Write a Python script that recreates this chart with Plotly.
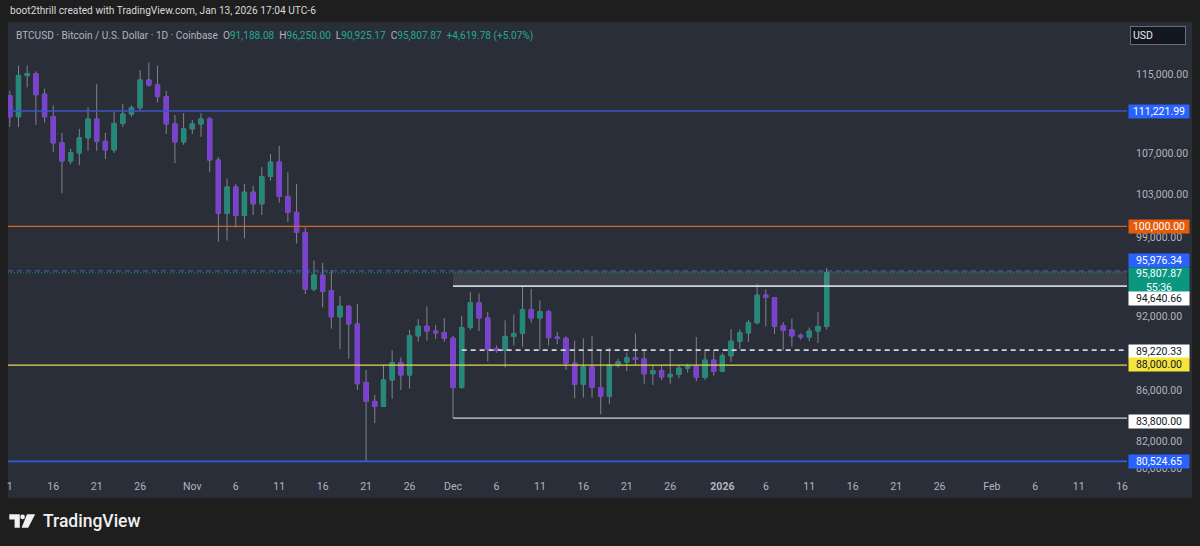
import numpy as np
import pandas as pd
import plotly.graph_objects as go

# ---------------- data ----------------
dates = pd.date_range("2025-10-11", "2026-01-13", freq="D")

opens = [112800, 110630, 114900, 115100, 112950, 110630, 108000, 106200, 107000, 108500,
         110390, 108150, 107300, 109950, 110900, 111550, 114440, 113920, 112700, 109900,
         108100, 109400, 109900, 110400, 106300, 101200, 103700, 101000, 103200, 102100,
         104700, 106100, 102800, 101300, 99440, 94380, 95600, 94250, 92000, 92900,
         91400, 86600, 85100, 84700, 86800, 88200, 87200, 90400, 91200, 90800,
         90650, 90200, 86200, 91100, 93200, 91900, 89350, 89200, 90350, 90600,
         92600, 91900, 92450, 90300, 90200, 88150, 86450, 87850, 86200, 85500,
         88000, 88250, 88600, 88500, 87300, 87550, 87050, 87250, 87750, 87900,
         87000, 88400, 87500, 88750, 89950, 90650, 91500, 93850, 93650, 91250,
         90900, 90450, 90300, 90800, 91188.08]
highs = [113300, 115960, 115960, 115350, 113530, 111800, 109000, 107400, 109400, 111600,
         114000, 109000, 111100, 111950, 111800, 115500, 116320, 115960, 113300, 110800,
         111000, 110300, 111000, 110600, 106600, 104500, 104000, 104000, 103800, 105600,
         106900, 107700, 105100, 104000, 99900, 96900, 96700, 96050, 93800, 93000,
         93100, 87600, 85600, 88000, 89200, 88600, 90900, 91800, 92900, 91300,
         91900, 90400, 92100, 94100, 94000, 92400, 89600, 91700, 92200, 94640.66,
         94400, 93400, 92600, 90700, 90350, 90000, 90200, 90400, 89200, 89400,
         88500, 89000, 90600, 89200, 88000, 88000, 89300, 88000, 88100, 90300,
         89200, 89200, 89000, 90950, 90950, 91750, 94850, 94350, 93700, 91550,
         91850, 90600, 91100, 92400, 96250.00]
lows = [109600, 109580, 113670, 109800, 110030, 107100, 103100, 105900, 105800, 107200,
        107200, 106400, 107000, 109600, 110600, 111270, 113730, 112100, 108900, 106000,
        107800, 108900, 108600, 105150, 98600, 98700, 99900, 98900, 101050, 101050,
        104300, 102200, 100400, 98440, 93950, 94200, 92800, 91000, 89300, 88500,
        86000, 80524.65, 83400, 84650, 85300, 86000, 86100, 89900, 90000, 90150,
        89900, 83800, 86100, 90900, 90800, 88300, 89000, 87800, 89600, 89500,
        91500, 89200, 89600, 89700, 87600, 85350, 85400, 85400, 84100, 84900,
        87800, 87500, 88000, 86500, 86400, 86800, 86500, 86950, 87400, 86700,
        86800, 87150, 87400, 88250, 89300, 89900, 91350, 91200, 90550, 89200,
        89500, 90100, 89950, 89800, 90925.17]
closes = [110630, 114900, 115130, 112900, 110630, 108000, 106200, 107000, 108500, 110390,
          108150, 107300, 109950, 110900, 111550, 114440, 113920, 112700, 109900, 108100,
          109400, 109900, 110400, 106300, 101200, 103700, 101000, 103200, 102100, 104700,
          106100, 102800, 101300, 99440, 94380, 95600, 94200, 92000, 92900, 91400,
          86500, 85100, 84700, 86800, 88200, 87200, 90400, 91200, 90800, 90650,
          90200, 86200, 91100, 93200, 91900, 89300, 89200, 90350, 90600, 92600,
          91900, 92450, 90250, 90200, 88150, 86450, 87850, 86200, 85500, 88000,
          88250, 88600, 88450, 87300, 87550, 87050, 87250, 87750, 87900, 87000,
          88400, 87500, 88750, 89950, 90650, 91500, 93850, 93650, 91200, 90850,
          90400, 90300, 90800, 91188.09, 95807.87]

# horizontal levels drawn on the chart
level_blue_top = 111221.99
level_round = 100000.00
level_alert = 95976.34
level_last = 95807.87
level_range_top = 94640.66
level_mid = 89220.33
level_yellow = 88000.00
level_range_low = 83800.00
level_blue_low = 80524.65

# axis ticks
price_ticks = [115000, 107000, 103000, 99000, 92000, 86000, 82000, 80000]
date_ticks = ["2025-10-11", "2025-10-16", "2025-10-21", "2025-10-26", "2025-11-01", "2025-11-06",
              "2025-11-11", "2025-11-16", "2025-11-21", "2025-11-26", "2025-12-01", "2025-12-06",
              "2025-12-11", "2025-12-16", "2025-12-21", "2025-12-26", "2026-01-01", "2026-01-06",
              "2026-01-11", "2026-01-16", "2026-01-21", "2026-01-26", "2026-02-01", "2026-02-06",
              "2026-02-11", "2026-02-16"]
date_labels = ["1", "16", "21", "26", "Nov", "6", "11", "16", "21", "26", "Dec", "6", "11", "16",
               "21", "26", "<b>2026</b>", "6", "11", "16", "21", "26", "Feb", "6", "11", "16"]

# ---------------- styling ----------------
W, H = 1200, 546
PL, PR, PT, PB = 8, 1127, 22, 472
OUTER = "#1e1e1e"
PANE = "#2a2e39"
UP = "#23897a"
DOWN = "#7b41d3"
WICK = "#80838c"
TXT = "#b2b5be"
FONT = "Roboto"

x_start = pd.Timestamp("2025-10-10 19:00")
x_end = pd.Timestamp("2026-02-16 13:30")
y_lo, y_hi = 79739, 120723


def pxx(x):
    return (x - PL) / (PR - PL)


def pxy(y):
    return (PB - y) / (PB - PT)


fig = go.Figure()

# shaded range box (Dec 1 -> right edge)
fig.add_trace(go.Scatter(
    x=[dates[51], x_end, x_end, dates[51], dates[51]],
    y=[level_alert, level_alert, level_range_top, level_range_top, level_alert],
    fill="toself", fillcolor="rgba(150,154,166,0.16)", line=dict(width=0),
    mode="lines", hoverinfo="skip", showlegend=False))


def hline(y, color, width, dash="solid", x0=None):
    fig.add_trace(go.Scatter(
        x=[x0 if x0 is not None else x_start, x_end], y=[y, y], mode="lines",
        line=dict(color=color, width=width, dash=dash),
        hoverinfo="skip", showlegend=False))


hline(level_blue_top, "#3f55c8", 1.6)
hline(level_round, "#d8621e", 1.4)
hline(level_alert, "rgba(70,110,220,0.85)", 1, dash="5px,4px")
hline(level_last, "rgba(8,153,129,0.9)", 1, dash="1px,2px")
hline(level_range_top, "#d1d4dc", 1.8, x0=dates[51])
hline(level_mid, "#d1d4dc", 1.6, dash="5px,4px", x0=dates[52])
hline(level_yellow, "#e8d84a", 1.3)
hline(level_range_low, "#d1d4dc", 1.4, x0=dates[51])
hline(level_blue_low, "#2f5ee0", 1.6)

# wicks (grey)
fig.add_trace(go.Candlestick(
    x=dates, open=opens, high=highs, low=lows, close=closes,
    increasing=dict(line=dict(color=WICK, width=1), fillcolor=WICK),
    decreasing=dict(line=dict(color=WICK, width=1), fillcolor=WICK),
    whiskerwidth=0, hoverinfo="skip", showlegend=False))

# coloured bodies
body_hi = np.maximum(opens, closes)
body_lo = np.minimum(opens, closes)
fig.add_trace(go.Candlestick(
    x=dates, open=opens, high=body_hi, low=body_lo, close=closes,
    increasing=dict(line=dict(color=UP, width=1), fillcolor=UP),
    decreasing=dict(line=dict(color=DOWN, width=1), fillcolor=DOWN),
    whiskerwidth=0, hoverinfo="skip", showlegend=False))

shapes = [
    # pane + axes background
    dict(type="rect", xref="paper", yref="paper", x0=pxx(8), x1=pxx(1192), y0=pxy(498), y1=pxy(22),
         fillcolor=PANE, line=dict(width=0), layer="below"),
]

# TradingView logo
logo_paths = [
    "M {} {} L {} {} L {} {} L {} {} L {} {} L {} {} Z".format(
        pxx(9.3), pxy(514.3), pxx(19.8), pxy(514.3), pxx(19.8), pxy(527.7),
        pxx(14.6), pxy(527.7), pxx(14.6), pxy(519.6), pxx(9.3), pxy(519.6)),
    "M {} {} L {} {} L {} {} L {} {} Z".format(
        pxx(27.0), pxy(514.3), pxx(35.2), pxy(514.3), pxx(28.2), pxy(527.7), pxx(21.6), pxy(527.7)),
]
for p in logo_paths:
    shapes.append(dict(type="path", path=p, xref="paper", yref="paper",
                       fillcolor="#f0f0f0", line=dict(width=0), layer="above"))
shapes.append(dict(type="circle", xref="paper", yref="paper", x0=pxx(20.3), x1=pxx(24.9),
                   y0=pxy(519.3), y1=pxy(514.5), fillcolor="#f0f0f0", line=dict(width=0),
                   layer="above"))

annotations = []


def price_label(val, text, bg, fg, yshift=0.0, height=11, yanchor="middle"):
    annotations.append(dict(
        x=pxx(1127.5), xref="paper", xanchor="left",
        y=np.log10(val), yref="y", yanchor=yanchor, yshift=yshift,
        text=text, showarrow=False, bgcolor=bg, borderpad=1, width=58, height=height,
        align="center", font=dict(family=FONT, size=10.5, color=fg)))


price_label(level_blue_top, "{:,.2f}".format(level_blue_top), "#2962ff", "#ffffff", yshift=-1)
price_label(level_round, "{:,.2f}".format(level_round), "#e65c0a", "#ffffff", yshift=-0.5)
price_label(level_alert, "{:,.2f}".format(level_alert), "#2962ff", "#ffffff", yshift=10.5)
price_label(level_last, "{:,.2f}<br>55:36".format(level_last), "#0b9680", "#ffffff",
            yshift=5.5, height=23, yanchor="top")
price_label(level_range_top, "{:,.2f}".format(level_range_top), "#ffffff", "#131722", yshift=-12)
price_label(level_mid, "{:,.2f}".format(level_mid), "#ffffff", "#131722", yshift=-1.5)
price_label(level_yellow, "{:,.2f}".format(level_yellow), "#f5e53a", "#131722", yshift=0.5)
price_label(level_range_low, "{:,.2f}".format(level_range_low), "#ffffff", "#131722", yshift=-3.5)
price_label(level_blue_low, "{:,.2f}".format(level_blue_low), "#2962ff", "#ffffff", yshift=0)

# header line
annotations.append(dict(
    x=pxx(8), y=pxy(11), xref="paper", yref="paper", xanchor="left", yanchor="middle",
    text="boot2thrill created with TradingView.com, Jan 13, 2026 17:04 UTC-6", showarrow=False,
    font=dict(family=FONT, size=10.2, color="#d9d9d9")))

# legend line
g = "#22ab94"
legend = ("BTCUSD · Bitcoin / U.S. Dollar · 1D · Coinbase&nbsp;&nbsp;"
          "O<span style='color:{g}'>{o:,.2f}</span>&nbsp;&nbsp;"
          "H<span style='color:{g}'>{h:,.2f}</span>&nbsp;&nbsp;"
          "L<span style='color:{g}'>{l:,.2f}</span>&nbsp;&nbsp;"
          "C<span style='color:{g}'>{c:,.2f}</span>&nbsp;&nbsp;"
          "<span style='color:{g}'>+{d:,.2f} (+{p:.2f}%)</span>").format(
    g=g, o=opens[-1], h=highs[-1], l=lows[-1], c=closes[-1],
    d=closes[-1] - closes[-2], p=(closes[-1] - closes[-2]) / closes[-2] * 100)
annotations.append(dict(
    x=pxx(14), y=pxy(35.5), xref="paper", yref="paper", xanchor="left", yanchor="middle",
    text=legend, showarrow=False, font=dict(family=FONT, size=10.1, color=TXT)))

# currency box
annotations.append(dict(
    x=pxx(1129.5), y=pxy(36), xref="paper", yref="paper", xanchor="left", yanchor="middle",
    text="USD", showarrow=False, bgcolor="#131722", bordercolor="#6a6d78", borderwidth=1,
    borderpad=2, width=50, height=13, align="left",
    font=dict(family=FONT, size=10.5, color="#e8e8e8")))

# brand text
annotations.append(dict(
    x=pxx(40.5), y=pxy(521), xref="paper", yref="paper", xanchor="left", yanchor="middle",
    text="TradingView", showarrow=False,
    font=dict(family=FONT, size=17.5, color="#f0f0f0", weight=500)))

fig.update_layout(
    width=W, height=H,
    margin=dict(l=PL, r=W - PR, t=PT, b=H - PB, pad=0),
    paper_bgcolor=OUTER, plot_bgcolor=PANE,
    showlegend=False, boxmode="overlay",
    shapes=shapes, annotations=annotations,
    xaxis=dict(
        type="date", range=[x_start, x_end], rangeslider=dict(visible=False),
        tickmode="array", tickvals=pd.to_datetime(date_ticks), ticktext=date_labels,
        showgrid=False, zeroline=False, showline=False, ticks="",
        tickfont=dict(family=FONT, size=10.5, color=TXT), ticklabelstandoff=6),
    yaxis=dict(
        type="log", range=[np.log10(y_lo), np.log10(y_hi)], side="right",
        tickmode="array", tickvals=price_ticks,
        ticktext=["{:,.2f}".format(v) for v in price_ticks],
        showgrid=False, zeroline=False, showline=False, ticks="",
        tickfont=dict(family=FONT, size=10.5, color=TXT), ticklabelstandoff=8),
    hovermode=False,
)

fig.write_html(
    "out.html",
    config={"displayModeBar": False},
    post_script="document.body.style.margin='0';document.body.style.background='#1e1e1e';",
)
